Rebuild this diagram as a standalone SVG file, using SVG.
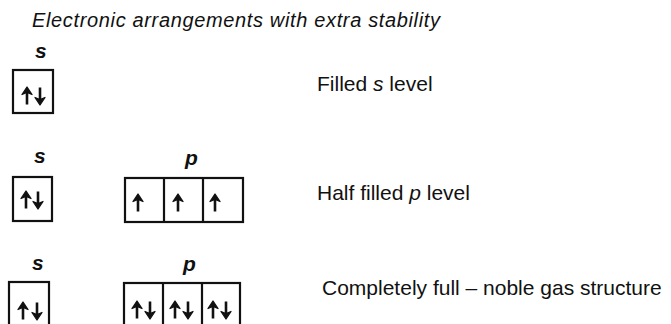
<svg xmlns="http://www.w3.org/2000/svg" xmlns:xlink="http://www.w3.org/1999/xlink" width="671" height="324" viewBox="0 0 671 324">
<style>
text{font-family:"Liberation Sans",Arial,sans-serif;fill:#111}
.title{font-size:20px;font-style:italic}
.orb{font-size:21px;font-style:italic;font-weight:bold}
.lbl{font-size:21px}
.it{font-style:italic}
.box{fill:none;stroke:#111;stroke-width:2.2}
</style>
<defs>
<g id="up"><line x1="0" y1="-4" x2="0" y2="8.5" stroke="#111" stroke-width="2.6"/><path d="M0,-9 L-5,-1.5 L0,-3.5 L5,-1.5 Z" fill="#111" stroke="#111" stroke-width="1.3" stroke-linejoin="round"/></g>
<g id="dn"><use xlink:href="#up" transform="rotate(180)"/></g>
</defs>
<rect width="671" height="324" fill="#fff"/>
<text class="title" x="32" y="27" textLength="408" lengthAdjust="spacing">Electronic arrangements with extra stability</text>

<g id="row1-s">
<text class="orb" x="35" y="58">s</text>
<rect class="box" x="13" y="70" width="40" height="43"/>
<use xlink:href="#up" x="27" y="96"/>
<use xlink:href="#dn" x="40" y="96"/>
</g>
<g id="row1-label"><text class="lbl" x="317" y="91">Filled <tspan class="it">s</tspan> level</text></g>

<g id="row2-s">
<text class="orb" x="34" y="163">s</text>
<rect class="box" x="13" y="177" width="39" height="44"/>
<use xlink:href="#up" x="26" y="200"/>
<use xlink:href="#dn" x="38" y="200"/>
</g>
<g id="row2-p">
<text class="orb" x="185" y="165">p</text>
<rect class="box" x="125" y="178" width="118" height="44"/>
<line class="box" x1="164" y1="178" x2="164" y2="222"/>
<line class="box" x1="203" y1="178" x2="203" y2="222"/>
<use xlink:href="#up" x="138" y="203"/>
<use xlink:href="#up" x="178" y="203"/>
<use xlink:href="#up" x="215" y="203"/>
</g>
<g id="row2-label"><text class="lbl" x="317" y="200">Half filled <tspan class="it">p</tspan> level</text></g>

<g id="row3-s">
<text class="orb" x="32" y="270">s</text>
<rect class="box" x="9" y="282" width="40" height="46"/>
<use xlink:href="#up" x="23" y="311"/>
<use xlink:href="#dn" x="37" y="311"/>
</g>
<g id="row3-p">
<text class="orb" x="183" y="271">p</text>
<rect class="box" x="124" y="283" width="116" height="46"/>
<line class="box" x1="163" y1="283" x2="163" y2="324"/>
<line class="box" x1="202" y1="283" x2="202" y2="324"/>
<use xlink:href="#up" x="137" y="310"/>
<use xlink:href="#dn" x="150" y="310"/>
<use xlink:href="#up" x="175" y="310"/>
<use xlink:href="#dn" x="188" y="310"/>
<use xlink:href="#up" x="213" y="310"/>
<use xlink:href="#dn" x="226" y="310"/>
</g>
<g id="row3-label"><text class="lbl" x="322" y="295">Completely full – noble gas structure</text></g>
</svg>
